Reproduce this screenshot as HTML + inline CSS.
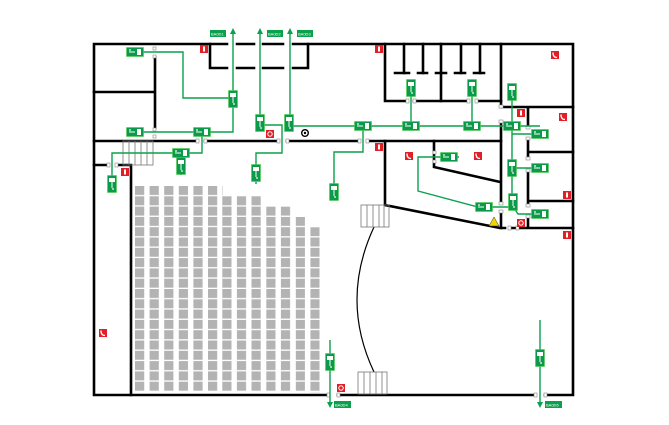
<!DOCTYPE html>
<html><head><meta charset="utf-8"><style>
html,body{margin:0;padding:0;background:#fff;}
svg{display:block;}
text{font-family:"Liberation Sans",sans-serif;}
</style></head><body>
<svg width="669" height="425" viewBox="0 0 669 425" xmlns="http://www.w3.org/2000/svg">
<defs>
<g id="sh"><rect x="-8.5" y="-4.5" width="17" height="9" fill="#0a9a4a" stroke="#5c5" stroke-width="0.6"/><rect x="2" y="-3" width="4" height="6" fill="#fff"/><path d="M-6 0h6" stroke="#fff" stroke-width="1"/><circle cx="-5" cy="-2" r="0.9" fill="#fff"/></g>
<g id="sv"><rect x="-4.5" y="-8.5" width="9" height="17" fill="#0a9a4a" stroke="#5c5" stroke-width="0.6"/><rect x="-3" y="-6" width="6" height="4" fill="#fff"/><path d="M0 -2v6" stroke="#fff" stroke-width="1"/><circle cx="1" cy="5" r="0.9" fill="#fff"/></g>
<g id="ext"><rect x="-4" y="-4" width="8" height="8" fill="#e41e26"/><rect x="-1" y="-2.5" width="2" height="5" fill="#fff"/></g>
<g id="ph"><rect x="-4" y="-4" width="8" height="8" fill="#e41e26"/><path d="M-2 -2.5 q0 5 4 5" stroke="#fff" stroke-width="1.3" fill="none"/></g>
<g id="rg"><rect x="-4" y="-4" width="8" height="8" fill="#e41e26"/><circle r="2.2" fill="none" stroke="#fff" stroke-width="1"/></g>
<pattern id="p2" x="135" y="186" width="14.6" height="10.3" patternUnits="userSpaceOnUse"><rect x="0" y="0" width="9.2" height="9" fill="#b3b3b3"/></pattern>
<pattern id="p3" x="222.3" y="186" width="14.6" height="10.3" patternUnits="userSpaceOnUse"><rect x="0" y="0" width="9.2" height="9" fill="#b3b3b3"/></pattern>
<pattern id="p4" x="266.3" y="186" width="14.6" height="10.3" patternUnits="userSpaceOnUse"><rect x="0" y="0" width="9.2" height="9" fill="#b3b3b3"/></pattern>
<pattern id="p5" x="295.7" y="186" width="14.6" height="10.3" patternUnits="userSpaceOnUse"><rect x="0" y="0" width="9.2" height="9" fill="#b3b3b3"/></pattern>
<pattern id="p6" x="310.3" y="186" width="14.6" height="10.3" patternUnits="userSpaceOnUse"><rect x="0" y="0" width="9.2" height="9" fill="#b3b3b3"/></pattern>
</defs>

<!-- seats -->
<rect x="135" y="186" width="88" height="206" fill="url(#p2)"/>
<rect x="222" y="196" width="44" height="196" fill="url(#p3)"/>
<rect x="266" y="206.6" width="29" height="185" fill="url(#p4)"/>
<rect x="295.7" y="216.9" width="10" height="175" fill="url(#p5)"/>
<rect x="310.3" y="227.2" width="10" height="165" fill="url(#p6)"/>

<!-- walls -->
<g stroke="#000" stroke-width="2.6" fill="none" stroke-linecap="square">
<path d="M94 44H227M237 44H254M263 44H283M293 44H573V395H545M535 395H338M328 395H94V44"/>
<path d="M210 44V68H227M237 68H254M263 68H283M293 68H308V44"/>
<path d="M155 57V128M94 92H155"/>
<path d="M94 141H197M205 141H278M287 141H359M368 141H501"/>
<path d="M94 165H107M117 165H131V395"/>
<path d="M385 44V101H406M414 101H468M477 101H501"/>
<path d="M404 44V73M423 44V73M441 44V101M461 44V73M480 44V73"/>
<path d="M395 73H409M418 73H427M436 73H446M455 73H465M474 73H484"/>
<path d="M501 44V105M501 122V130M501 130V202M501 212V228"/>
<path d="M501 107H573M528 107V126M528 140V157M528 172V204M528 218V228M528 152H573M528 201H573M510 228H573"/>
<path d="M385 141V205L500 228H505"/>
<path d="M434 141V167L500 182"/>
</g>
<path d="M374 227Q340 300 374 372" stroke="#000" stroke-width="1.2" fill="none"/>
<g stroke="#777" stroke-width="0.8" fill="none">
<rect x="123" y="141" width="30" height="24"/><path d="M129 141V165M135 141V165M141 141V165M147 141V165"/>
<rect x="361" y="205" width="28" height="22"/><path d="M367 205V227M373 205V227M379 205V227M384 205V227"/>
<rect x="358" y="372" width="29" height="22"/><path d="M364 372V394M370 372V394M376 372V394M382 372V394"/>
</g>
<!-- door stubs -->
<g fill="#fff" stroke="#888" stroke-width="0.6">
<rect x="153" y="47" width="3" height="3"/><rect x="153" y="55" width="3" height="3"/><rect x="153" y="128" width="3" height="3"/><rect x="153" y="135" width="3" height="3"/>
<rect x="196" y="139" width="3" height="4"/><rect x="204" y="139" width="3" height="4"/><rect x="277" y="139" width="3" height="4"/><rect x="286" y="139" width="3" height="4"/>
<rect x="358" y="139" width="3" height="4"/><rect x="366" y="139" width="3" height="4"/><rect x="107" y="163" width="3" height="4"/><rect x="115" y="163" width="3" height="4"/>
<rect x="406" y="99" width="3" height="4"/><rect x="413" y="99" width="3" height="4"/><rect x="467" y="99" width="3" height="4"/><rect x="475" y="99" width="3" height="4"/>
<rect x="499" y="105" width="4" height="3"/><rect x="499" y="120" width="4" height="3"/><rect x="499" y="202" width="4" height="3"/><rect x="499" y="210" width="4" height="3"/>
<rect x="526" y="126" width="4" height="3"/><rect x="526" y="137" width="4" height="3"/><rect x="526" y="157" width="4" height="3"/><rect x="526" y="169" width="4" height="3"/><rect x="526" y="204" width="4" height="3"/><rect x="526" y="215" width="4" height="3"/>
<rect x="508" y="226" width="3" height="4"/><rect x="516" y="226" width="3" height="4"/><rect x="433" y="151" width="3" height="3"/><rect x="433" y="160" width="3" height="3"/>
<rect x="327" y="393" width="3" height="4"/><rect x="337" y="393" width="3" height="4"/><rect x="534" y="393" width="3" height="4"/><rect x="544" y="393" width="3" height="4"/>
</g>

<!-- green routes -->
<g stroke="#0aa14c" stroke-width="1.4" fill="none">
<path d="M143 52H183V98H233"/>
<path d="M233 32V132H143"/>
<path d="M202 132V153H112V190"/>
<path d="M181 153V175"/>
<path d="M260 32V125H282V153H256V184"/>
<path d="M290 32V126H540"/>
<path d="M363 126V152H334V200"/>
<path d="M411 85V126M472 85V126"/>
<path d="M512 85V205L518 214H540M512 134H540M512 168H540"/>
<path d="M459 157H418V191L478 207H512"/>
<path d="M330 340V403M540 320V404"/>
</g>
<g fill="#0aa14c">
<path d="M233 28L230 34H236Z"/><path d="M260 28L257 34H263Z"/><path d="M290 28L287 34H293Z"/>
<path d="M330 408L327 402H333Z"/><path d="M540 408L537 402H543Z"/>
</g>
<!-- labels -->
<g font-size="4" fill="#fff">
<rect x="210" y="30" width="16" height="7" fill="#0aa14c"/><text x="211" y="35.5">BA0D1</text>
<rect x="267" y="30" width="16" height="7" fill="#0aa14c"/><text x="268" y="35.5">BA0D2</text>
<rect x="297" y="30" width="16" height="7" fill="#0aa14c"/><text x="298" y="35.5">BA0D3</text>
<rect x="334" y="401" width="17" height="7" fill="#0aa14c"/><text x="335" y="406.5">BA0D4</text>
<rect x="545" y="401" width="17" height="7" fill="#0aa14c"/><text x="546" y="406.5">BA0D5</text>
</g>
<!-- signs -->
<use href="#sh" x="135" y="52"/><use href="#sh" x="135" y="132"/><use href="#sh" x="202" y="132"/><use href="#sh" x="181" y="153"/>
<use href="#sv" x="233" y="99"/><use href="#sv" x="260" y="123"/><use href="#sv" x="289" y="123"/><use href="#sv" x="181" y="166"/>
<use href="#sv" x="112" y="184"/><use href="#sv" x="256" y="173"/><use href="#sv" x="334" y="192"/>
<use href="#sh" x="363" y="126"/><use href="#sh" x="411" y="126"/><use href="#sh" x="472" y="126"/><use href="#sh" x="512" y="126"/>
<use href="#sv" x="411" y="88"/><use href="#sv" x="472" y="88"/><use href="#sv" x="512" y="92"/>
<use href="#sh" x="540" y="134"/><use href="#sh" x="540" y="168"/><use href="#sh" x="540" y="214"/>
<use href="#sv" x="512" y="168"/><use href="#sv" x="513" y="202"/><use href="#sh" x="449" y="157"/><use href="#sh" x="484" y="207"/>
<use href="#sv" x="330" y="362"/><use href="#sv" x="540" y="358"/>
<!-- red icons -->
<use href="#ext" x="204" y="49"/><use href="#ext" x="379" y="49"/><use href="#ext" x="125" y="172"/><use href="#ext" x="379" y="147"/>
<use href="#ext" x="521" y="113"/><use href="#ext" x="567" y="195"/><use href="#ext" x="567" y="235"/>
<use href="#ph" x="409" y="156"/><use href="#ph" x="478" y="156"/><use href="#ph" x="555" y="55"/><use href="#ph" x="563" y="117"/><use href="#ph" x="103" y="333"/>
<use href="#rg" x="270" y="134"/><use href="#rg" x="521" y="223"/><use href="#rg" x="341" y="388"/>
<circle cx="305" cy="133" r="3.3" fill="#fff" stroke="#000" stroke-width="1.4"/><circle cx="305" cy="133" r="1.2" fill="#000"/>
<path d="M494 217L489 226H499Z" fill="#f2d400" stroke="#333" stroke-width="0.5"/>
</svg>
</body></html>
